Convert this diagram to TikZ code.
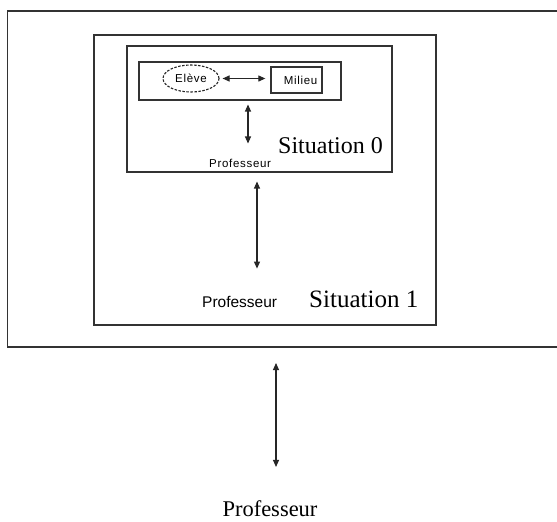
\documentclass[tikz,border=0pt]{standalone}
\usepackage{fontspec}
\setmainfont{Liberation Serif}
\newfontfamily\arialfont{Liberation Sans}
\newfontfamily\arialspaced[LetterSpace=6]{Liberation Sans}
\usetikzlibrary{arrows.meta,shapes.geometric,calc}
\tikzset{
  frame/.style={draw=black!80, line width=1.5pt},
  biarrow/.style={draw=black!85, line width=1.1pt,
    {Triangle[length=7pt,width=6pt]}-{Triangle[length=7pt,width=6pt]}},
  smalllabel/.style={font=\arialspaced\fontsize{11.5}{13}\selectfont, inner sep=0pt},
  sanslabel/.style={font=\arialfont\fontsize{15.5}{18}\selectfont, inner sep=0pt},
  seriflabel/.style={inner sep=0pt},
}
\begin{document}
\begin{tikzpicture}[x=1pt,y=-1pt]
  \useasboundingbox (0,0) rectangle (557,522);
  \fill[white] (0,0) rectangle (557,522);
  \clip (0,0) rectangle (557,522);

  % outermost frame, open past the right edge of the page
  \draw[frame] (570,11) -- (7.5,11) -- (7.5,347) -- (570,347);

  % Situation 1 frame
  \node[frame, rectangle, inner sep=0pt, minimum width=342pt, minimum height=290pt,
        anchor=north west] (sit1) at (93,34) {};
  % Situation 0 frame
  \node[frame, rectangle, inner sep=0pt, minimum width=265pt, minimum height=126pt,
        anchor=north west] (sit0) at (126,45) {};
  % pupil / milieu frame
  \node[frame, rectangle, inner sep=0pt, minimum width=202pt, minimum height=38pt,
        anchor=north west] (inner) at (138,61) {};

  \node[draw=black!85, dash pattern=on 2.5pt off 1.5pt, line width=1.1pt, ellipse, inner sep=0pt,
        minimum width=56pt, minimum height=27pt, smalllabel] (eleve) at (191,78.5)
        {Elève\hspace{20pt}};
  \node[frame, line width=1.3pt, rectangle, inner sep=0pt, minimum width=51pt,
        minimum height=26pt, smalllabel] (milieu) at (296.5,80) {\hspace{8pt}Milieu};
  \draw[biarrow, shorten <=3pt, shorten >=5pt] (eleve.east) -- (milieu.west |- eleve.east);

  % labels
  \node[smalllabel, anchor=base west] (prof0) at (209,167) {Professeur};
  \node[seriflabel, anchor=base west, font=\fontsize{24}{28}\selectfont] (s0) at (278,153) {Situation 0};
  \node[sanslabel, anchor=base west] (prof1) at (202,307) {Professeur};
  \node[seriflabel, anchor=base west, font=\fontsize{25}{29}\selectfont] (s1) at (309,307) {Situation 1};
  \node[seriflabel, anchor=base, font=\fontsize{22.5}{26}\selectfont] (prof2) at (270,516) {Professeur};

  % vertical links
  \coordinate (x0) at (248,0);
  \coordinate (x1) at (257,0);
  \coordinate (x2) at (276,0);
  \draw[biarrow] ($(inner.south -| x0)+(0,4)$) -- ($(prof0.north -| x0)+(0,-15)$);
  \draw[biarrow] ($(sit0.south -| x1)+(0,9)$) -- ($(prof1.north -| x1)+(0,-27)$);
  \draw[biarrow] ($(0,347)+(x2)+(0,16)$) -- ($(prof2.north -| x2)+(0,-33)$);
\end{tikzpicture}
\end{document}
